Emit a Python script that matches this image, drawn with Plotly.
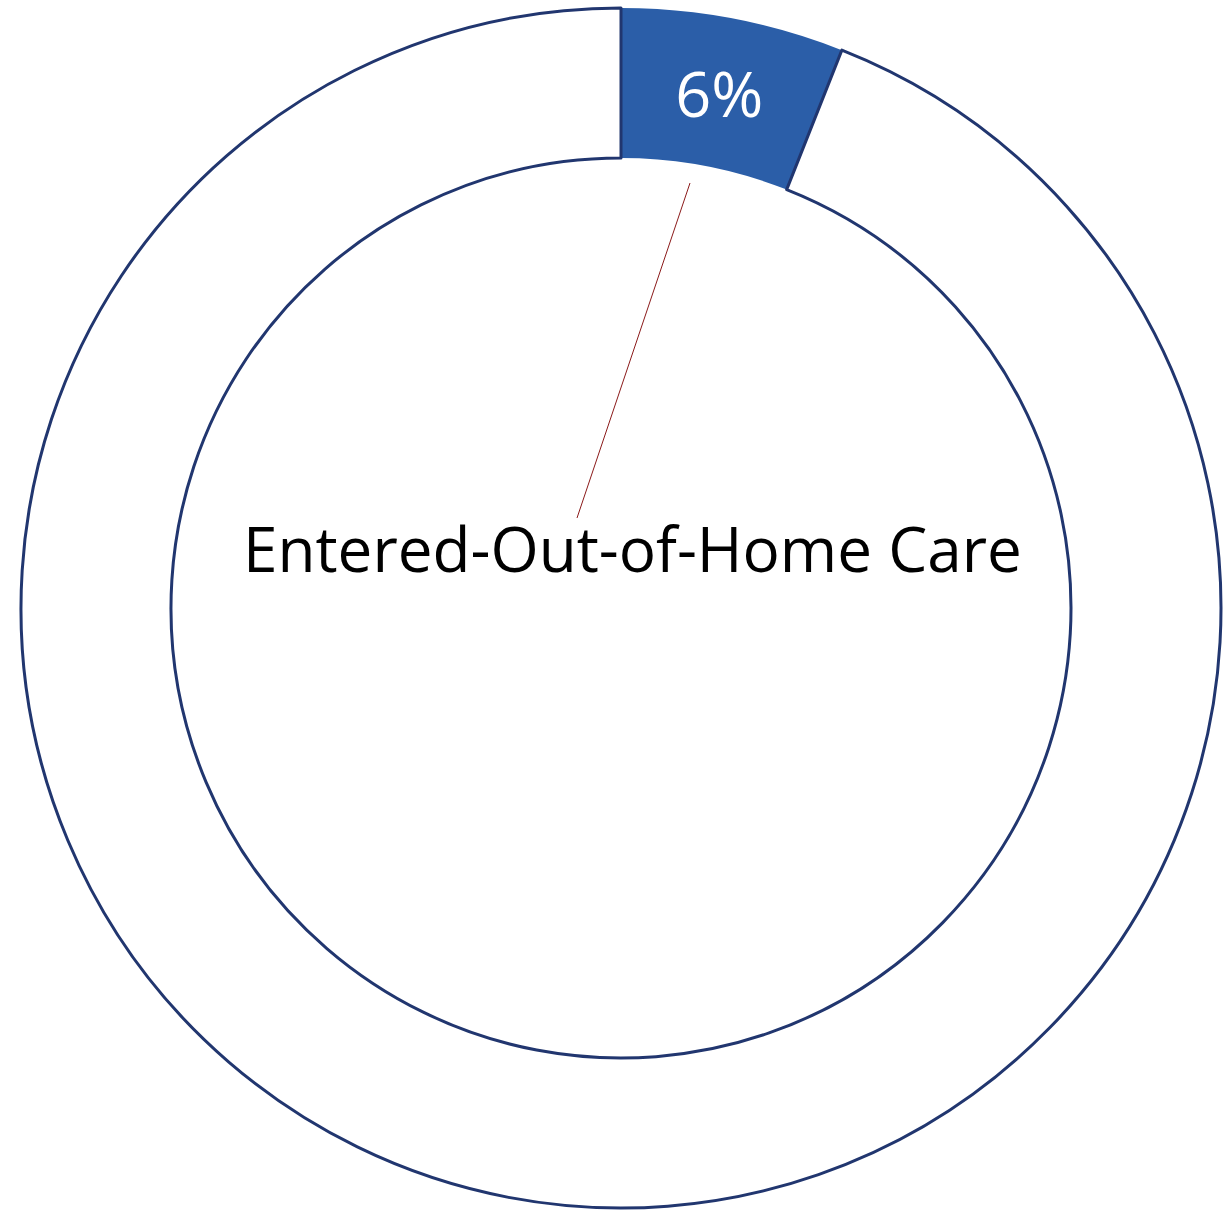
import plotly.graph_objects as go

# Share of cases by outcome
categories = ["Entered-Out-of-Home Care", "Other"]
shares = [6, 94]
slice_labels = ["6%", ""]

W, H = 1225, 1210
NAVY = "#21366f"
BLUE = "#2b5ea8"

# Donut geometry in pixels (center and outer radius)
cx, cy, R = 621, 608, 600


def px(x):
    return x / W


def py(y):
    return 1 - y / H


fig = go.Figure(
    go.Pie(
        labels=categories,
        values=shares,
        text=slice_labels,
        textinfo="text",
        textposition="inside",
        insidetextorientation="horizontal",
        insidetextfont=dict(color="white", size=63, family="Open Sans"),
        hole=0.75,
        sort=False,
        direction="clockwise",
        rotation=0,
        marker=dict(
            colors=[BLUE, "white"],
            line=dict(color=[BLUE, NAVY], width=[0, 3]),
        ),
        domain=dict(x=[px(cx - R), px(cx + R)], y=[py(cy + R), py(cy - R)]),
        showlegend=False,
        hoverinfo="label+percent",
    )
)

# Category label with its leader line into the highlighted slice
fig.add_shape(
    type="line",
    xref="paper", yref="paper",
    x0=px(577), y0=py(518), x1=px(690), y1=py(183),
    line=dict(color="#8b1a1a", width=1),
)
fig.add_annotation(
    x=px(632), y=py(548),
    xref="paper", yref="paper",
    text=categories[0],
    showarrow=False,
    font=dict(size=62, color="black", family="Open Sans"),
    xanchor="center", yanchor="middle",
)

fig.update_layout(
    width=W, height=H,
    margin=dict(l=0, r=0, t=0, b=0),
    paper_bgcolor="white",
    plot_bgcolor="white",
)

fig.write_html("out.html")
